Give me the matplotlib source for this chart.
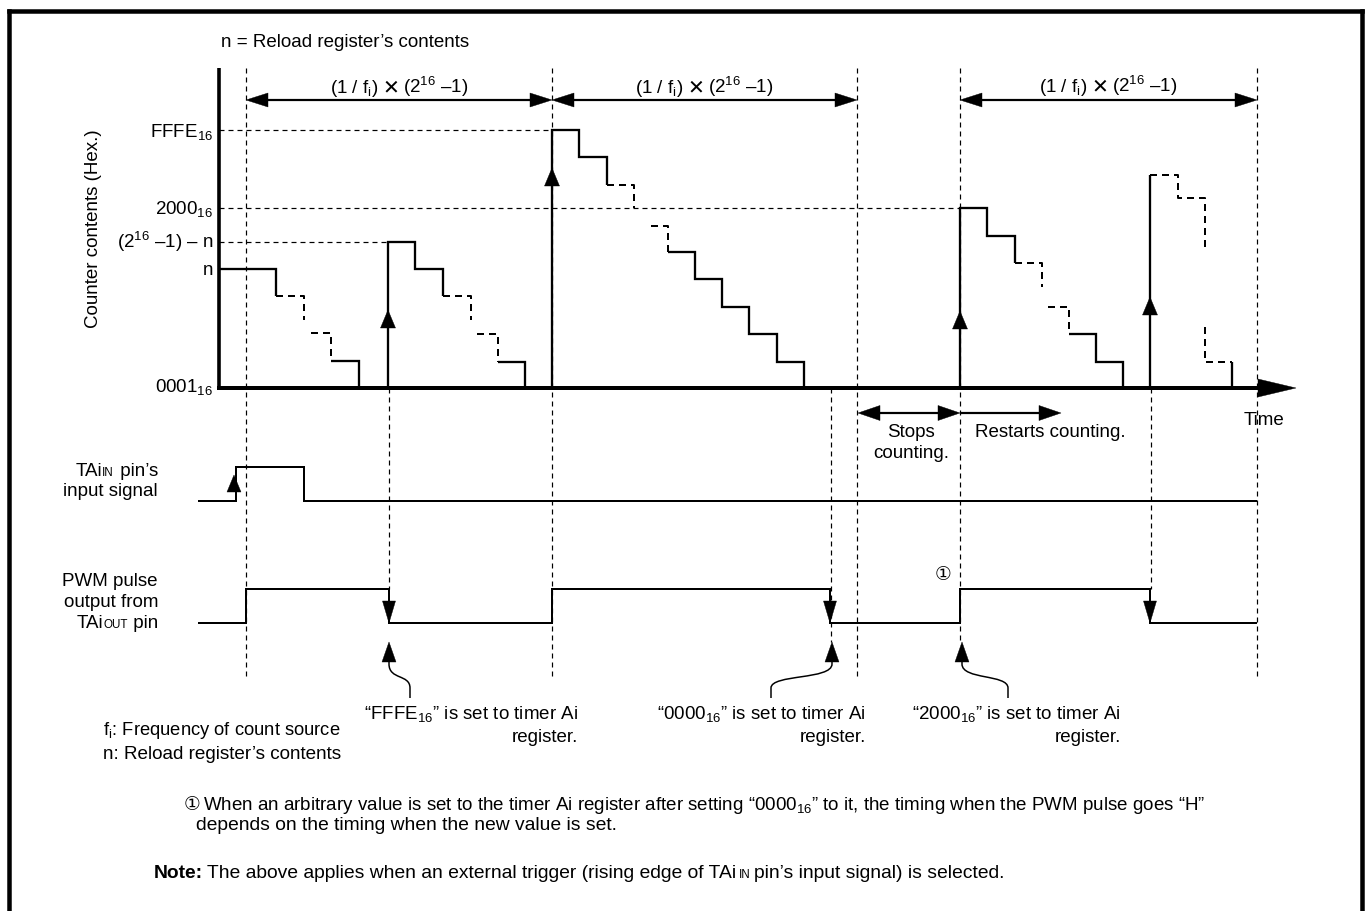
import matplotlib
matplotlib.use("Agg")
import matplotlib.pyplot as plt
from matplotlib.patches import Polygon, PathPatch
from matplotlib.path import Path

plt.rcParams['font.family'] = ['Liberation Sans', 'DejaVu Sans']
plt.rcParams['mathtext.fontset'] = 'custom'
plt.rcParams['mathtext.rm'] = 'Liberation Sans'
plt.rcParams['mathtext.it'] = 'Liberation Sans:italic'
plt.rcParams['mathtext.bf'] = 'Liberation Sans:bold'
plt.rcParams['mathtext.default'] = 'regular'
plt.rcParams['lines.scale_dashes'] = False
plt.rcParams['lines.solid_capstyle'] = 'butt'
plt.rcParams['lines.solid_joinstyle'] = 'miter'

# ------------------------------------------------------------------ data
# counter-contents levels (vertical position of each labelled level)
level_labels = ['FFFE$_{16}$', '2000$_{16}$', '(2$^{16}$ –1) – n', 'n', '0001$_{16}$']
level_pos = [130, 208, 242, 269, 388]
level_baseline = [137, 214, 248, 275, 392]
ref_level_pos = [130, 208, 242]          # dashed reference levels
ref_level_end = [552, 960, 388]          # time where each reference level ends

# event times along the time axis
period_start = [246, 552, 960]
period_end = [552, 857, 1257]

# counter waveform: solid runs (time list, level list)
counter_solid_t = [
    [219, 276, 276], [331, 359, 359],
    [388, 388, 415, 415, 443, 443], [498, 525, 525],
    [552, 552, 579, 579, 607, 607],
    [668, 695, 695, 722, 722, 749, 749, 777, 777, 804, 804],
    [960, 960, 987, 987, 1015, 1015], [1069, 1096, 1096, 1123, 1123],
    [1150, 1150], [1232, 1232],
]
counter_solid_v = [
    [269, 269, 296], [361, 361, 388],
    [388, 242, 242, 269, 269, 296], [362, 362, 388],
    [388, 130, 130, 157, 157, 185],
    [252, 252, 279, 279, 307, 307, 334, 334, 362, 362, 388],
    [388, 208, 208, 236, 236, 263], [334, 334, 362, 362, 388],
    [388, 175], [362, 388],
]
# counter waveform: dashed (omitted) runs
counter_dash_t = [
    [276, 304, 304], [311, 331, 331],
    [443, 471, 471], [477, 498, 498],
    [607, 634, 634], [651, 668, 668],
    [1015, 1042, 1042], [1048, 1069, 1069],
    [1150, 1178, 1178, 1205, 1205], [1205, 1205, 1232],
]
counter_dash_v = [
    [296, 296, 320], [333, 333, 361],
    [296, 296, 320], [334, 334, 362],
    [185, 185, 208], [226, 226, 252],
    [263, 263, 287], [307, 307, 334],
    [175, 175, 198, 198, 247], [327, 362, 362],
]
# reload instants (rising arrows on the counter)
reload_t = [388, 552, 960, 1150]
reload_arrow_tip = [310, 168, 311, 297]

# TAiIN input signal (edges, state after each edge; 1 = H)
tain_t = [198, 236, 304, 1257]
tain_state = [0, 1, 0, 0]
tain_trigger_t = [234]

# PWM output (edges, state after each edge)
pwm_t = [198, 246, 389, 552, 830, 960, 1150, 1257]
pwm_state = [0, 1, 0, 1, 0, 1, 0, 0]
pwm_fall_t = [389, 830, 1150]

# timing guide lines (time, top, bottom)
guide_t = [246, 552, 857, 960, 1257, 389, 831, 1151]
guide_top = [68, 68, 68, 68, 68, 388, 388, 388]
guide_bot = [678, 678, 680, 642, 676, 589, 642, 589]

# register write events (arrow time, label end time, text)
write_t = [389, 832, 962]
write_lead_t = [410, 771, 1008]
write_text = ['“FFFE$_{16}$” is set to timer Ai', '“0000$_{16}$” is set to timer Ai',
              '“2000$_{16}$” is set to timer Ai']
write_text_right = [578, 866, 1121]

# ------------------------------------------------------------------ figure
fig = plt.figure(figsize=(13.72, 9.11), dpi=100)
ax = fig.add_axes([0, 0, 1, 1])
ax.set_xlim(0, 1372)
ax.set_ylim(911, 0)
ax.axis('off')
renderer = fig.canvas.get_renderer()

PT = 72 / 100.0  # points per pixel
FS = 13.5
SMALL = 8.4

def px(v):
    return v * PT

HI_TAIN, LO_TAIN = 467, 501
HI_PWM, LO_PWM = 589, 623


def head(x, y, d, length, width):
    if d == 'up':
        pts = [(x, y), (x - width / 2, y + length), (x + width / 2, y + length)]
    elif d == 'down':
        pts = [(x, y), (x - width / 2, y - length), (x + width / 2, y - length)]
    elif d == 'left':
        pts = [(x, y), (x + length, y - width / 2), (x + length, y + width / 2)]
    else:
        pts = [(x, y), (x - length, y - width / 2), (x - length, y + width / 2)]
    ax.add_patch(Polygon(pts, closed=True, facecolor='black', edgecolor='black',
                         lw=0.3, zorder=6))


def rich(x, y, runs, ha='left', size=FS):
    items = []
    total = 0.0
    for r in runs:
        if isinstance(r, (int, float)):
            items.append(('gap', r))
            total += r
            continue
        s, kw = r
        kwargs = dict(fontsize=kw.get('size', size), va='baseline', ha='left',
                      fontweight=kw.get('weight', 'normal'))
        if 'family' in kw:
            kwargs['family'] = kw['family']
        t = ax.text(0, y, s, **kwargs)
        w = t.get_window_extent(renderer).width
        items.append(('t', t, w))
        total += w
    x0 = x if ha == 'left' else (x - total if ha == 'right' else x - total / 2)
    for it in items:
        if it[0] == 'gap':
            x0 += it[1]
        else:
            it[1].set_x(x0)
            x0 += it[2]

# border
border_kw = dict(color='black', lw=px(4.5), solid_capstyle='projecting')
ax.plot([9, 9], [11, 911], **border_kw)
ax.plot([9, 1362], [11, 11], **border_kw)
ax.plot([1362, 1362], [11, 911], **border_kw)

thin_dash = dict(color='black', lw=px(1.2), linestyle=(0, (px(5), px(4))))

# guide lines
for t, a, b in zip(guide_t, guide_top, guide_bot):
    ax.plot([t, t], [a, b], **thin_dash)
# reference levels
for yv, xe in zip(ref_level_pos, ref_level_end):
    ax.plot([219, xe], [yv, yv], **thin_dash)

# axes
ax.plot([219, 219], [68, 390], color='black', lw=px(3.6))
ax.plot([217, 1262], [388, 388], color='black', lw=px(4))
head(1296, 388, 'right', 38, 18)

# counter waveform
for xs, ys in zip(counter_solid_t, counter_solid_v):
    ax.plot(xs, ys, color='black', lw=px(2.3), zorder=4)
for xs, ys in zip(counter_dash_t, counter_dash_v):
    ax.plot(xs, ys, color='black', lw=px(2.0), linestyle=(0, (px(7), px(5))), zorder=4)
for t, tip in zip(reload_t, reload_arrow_tip):
    head(t, tip, 'up', 18, 15)

# level labels
for lab, yb in zip(level_labels, level_baseline):
    rich(213, yb, [(lab, {})], ha='right')
ax.text(94, 229, 'Counter contents (Hex.)', rotation=90, fontsize=FS,
        ha='center', va='center')
rich(221, 47, [('n = Reload register’s contents', {})])
rich(1264, 425, [('Time', {})], ha='center')

# period arrows
for a, b in zip(period_start, period_end):
    ax.plot([a + 10, b - 10], [100, 100], color='black', lw=px(2.2))
    head(a, 100, 'left', 22, 14)
    head(b, 100, 'right', 22, 14)
    yb = 93 if a < 900 else 92
    rich((a + b) / 2, yb, [('(1 / f$_i$)', {}), 4,
                           ('✕', {'family': ['DejaVu Sans'], 'size': FS + 1}), 4,
                           ('(2$^{16}$ –1)', {})], ha='center')

# stop / restart arrows
ax.plot([868, 950], [413, 413], color='black', lw=px(2.2))
head(858, 413, 'left', 22, 15)
head(960, 413, 'right', 22, 15)
ax.plot([960, 1050], [413, 413], color='black', lw=px(2.2))
head(1061, 413, 'right', 22, 15)
rich(911, 437, [('Stops', {})], ha='center')
rich(911, 458, [('counting.', {})], ha='center')
rich(975, 437, [('Restarts counting.', {})])

# TAiIN signal
tain_y = [HI_TAIN if s else LO_TAIN for s in tain_state]
ax.step(tain_t, tain_y, where='post', color='black', lw=px(2.0))
for t in tain_trigger_t:
    head(t, 475, 'up', 17, 14)
rich(158, 476, [('TAi', {}), ('IN', {'size': SMALL}), 1, (' pin’s', {})], ha='right')
rich(158, 496, [('input signal', {})], ha='right')

# PWM signal
pwm_y = [HI_PWM if s else LO_PWM for s in pwm_state]
ax.step(pwm_t, pwm_y, where='post', color='black', lw=px(2.0))
for t in pwm_fall_t:
    head(t, 623, 'down', 22, 13)
rich(158, 586, [('PWM pulse', {})], ha='right')
rich(158, 607, [('output from', {})], ha='right')
rich(158, 628, [('TAi', {}), ('OUT', {'size': SMALL}), (' pin', {})], ha='right')
ax.text(943, 575, '①', family=['DejaVu Sans'], fontsize=FS, ha='center', va='center')

# register write arrows with curved leaders
for t, lt in zip(write_t, write_lead_t):
    head(t, 642, 'up', 20, 14)
    y0, y1 = 664, 688
    verts = [(t, 660), (t, y0), (t, y0 + 16), (lt, y1 - 14), (lt, y1), (lt, 698)]
    codes = [Path.MOVETO, Path.LINETO, Path.CURVE4, Path.CURVE4, Path.CURVE4, Path.LINETO]
    ax.add_patch(PathPatch(Path(verts, codes), facecolor='none', edgecolor='black',
                           lw=px(1.5)))
for txt, xr in zip(write_text, write_text_right):
    rich(xr, 719, [(txt, {})], ha='right')
    rich(xr, 742, [('register.', {})], ha='right')

# legend notes
rich(103, 735, [('f$_i$: Frequency of count source', {})], size=13.2)
rich(103, 759, [('n: Reload register’s contents', {})], size=13.6)

ax.text(184, 810, '①', family=['DejaVu Sans'], fontsize=FS, ha='left', va='baseline')
rich(203, 810, [('When an arbitrary value is set to the timer Ai register after setting '
                 '“0000$_{16}$” to it, the timing when the PWM pulse goes “H”', {})])
rich(196, 830, [('depends on the timing when the new value is set.', {})], size=13.9)
rich(154, 878, [('Note:', {'weight': 'bold'}), 4,
                ('The above applies when an external trigger (rising edge of TAi', {}), 3,
                ('IN', {'size': SMALL}), 3,
                ('pin’s input signal) is selected.', {})], size=13.9)

fig.savefig('out.png', dpi=100)
